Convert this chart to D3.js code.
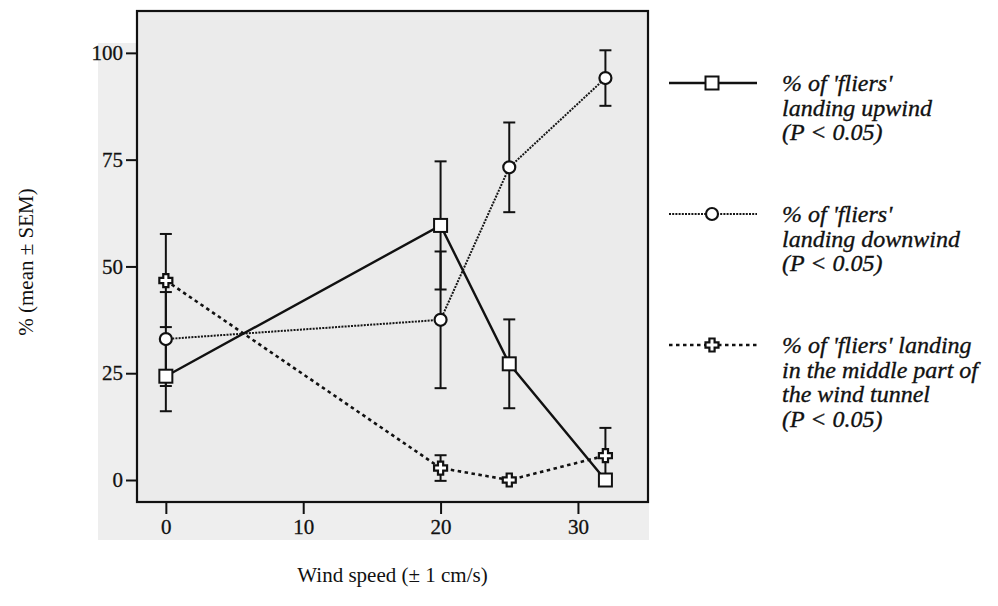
<!DOCTYPE html>
<html>
<head>
<meta charset="utf-8">
<script src="https://cdn.jsdelivr.net/npm/d3@7"></script>
<style>
  html, body { margin: 0; padding: 0; background: #fff; }
  svg { display: block; }
</style>
</head>
<body>
<svg id="chart" width="998" height="606"></svg>
<script>
// ---- data ----
const windSpeed = [0, 20, 25, 32];
const upwind = [24.3, 59.6, 27.2, 0];
const upwindErr = [8.2, 15, 10.4, null];
const downwind = [33, 37.5, 73.2, 94.1];
const downwindErr = [11, 16, 10.5, 6.5];
const middle = [46.7, 2.8, 0, 5.7];
const middleErr = [10.9, 3, null, 6.5];
const xTicks = [0, 10, 20, 30];
const yTicks = [0, 25, 50, 75, 100];
const xTitle = "Wind speed (\u00B1 1 cm/s)";
const yTitle = "% (mean \u00B1 SEM)";
const legendItems = [
  { key: "up", lines: ["% of 'fliers'", "landing upwind", "(P < 0.05)"] },
  { key: "down", lines: ["% of 'fliers'", "landing downwind", "(P < 0.05)"] },
  { key: "mid", lines: ["% of 'fliers' landing", "in the middle part of", "the wind tunnel", "(P < 0.05)"] }
];

// ---- layout ----
const box = { left: 137, right: 648, top: 11, bottom: 502 };
const svg = d3.select("#chart");
const x = d3.scaleLinear().domain([-2.1, 35.1]).range([box.left, box.right]);
const y = d3.scaleLinear().domain([-5.15, 109.8]).range([box.bottom, box.top]);

const serif = "'Liberation Serif', 'Times New Roman', serif";

// scanned page grey background
svg.append("rect").attr("x", 98).attr("y", 43).attr("width", 551).attr("height", 497).attr("fill", "#eeeeee");
svg.append("rect").attr("x", box.left).attr("y", box.top).attr("width", box.right - box.left)
  .attr("height", box.bottom - box.top).attr("fill", "#ebebeb");

// axes
const yAxis = d3.axisLeft(y).tickValues(yTicks).tickSize(11).tickPadding(3).tickFormat(d3.format("d"));
const gy = svg.append("g").attr("transform", `translate(${box.left},0)`).call(yAxis);
const xAxis = d3.axisBottom(x).tickValues(xTicks).tickSize(12).tickPadding(5).tickFormat(d3.format("d"));
const gx = svg.append("g").attr("transform", `translate(0,${box.bottom})`).call(xAxis);
[gx, gy].forEach(g => {
  g.select(".domain").remove();
  g.selectAll(".tick line").attr("stroke", "#111").attr("stroke-width", 2);
  g.selectAll(".tick text").attr("font-family", serif).attr("font-size", 21).attr("fill", "#111")
    .attr("stroke", "#111").attr("stroke-width", 0.3);
});

// box frame
svg.append("rect").attr("x", box.left).attr("y", box.top).attr("width", box.right - box.left)
  .attr("height", box.bottom - box.top).attr("fill", "none").attr("stroke", "#111").attr("stroke-width", 2.2);

// titles
svg.append("text").attr("x", (box.left + box.right) / 2).attr("y", 582).attr("text-anchor", "middle")
  .attr("font-family", serif).attr("font-size", 21).attr("fill", "#111").text(xTitle);
svg.append("text").attr("transform", `translate(33,262) rotate(-90)`)
  .attr("text-anchor", "middle").attr("font-family", serif).attr("font-size", 21).attr("fill", "#111").text(yTitle);

// series
const styles = {
  up: { dash: null, width: 2.4, color: "#111" },
  down: { dash: "2,1.2", width: 2, color: "#151515" },
  mid: { dash: "3.5,3.5", width: 2.6, color: "#111" }
};
const series = [
  { key: "up", vals: upwind, err: upwindErr, marker: "square" },
  { key: "down", vals: downwind, err: downwindErr, marker: "circle" },
  { key: "mid", vals: middle, err: middleErr, marker: "cross" }
];

const plot = svg.append("g");
// error bars
series.forEach(s => {
  s.vals.forEach((v, i) => {
    const e = s.err[i];
    if (e == null) return;
    const cx = x(windSpeed[i]);
    const g = plot.append("g").attr("stroke", "#111").attr("stroke-width", 2);
    g.append("line").attr("x1", cx).attr("x2", cx).attr("y1", y(v - e)).attr("y2", y(v + e));
    g.append("line").attr("x1", cx - 6).attr("x2", cx + 6).attr("y1", y(v + e)).attr("y2", y(v + e));
    g.append("line").attr("x1", cx - 6).attr("x2", cx + 6).attr("y1", y(v - e)).attr("y2", y(v - e));
  });
});

// lines
const lineGen = d3.line().x((d, i) => x(windSpeed[i])).y(d => y(d));
series.forEach(s => {
  const st = styles[s.key];
  plot.append("path").attr("d", lineGen(s.vals)).attr("fill", "none")
    .attr("stroke", st.color).attr("stroke-width", st.width)
    .attr("stroke-dasharray", st.dash);
});

const crossPath = d3.path();
(function () {
  const a = 2.6, b = 6.5;
  const pts = [[-a,-b],[a,-b],[a,-a],[b,-a],[b,a],[a,a],[a,b],[-a,b],[-a,a],[-b,a],[-b,-a],[-a,-a]];
  pts.forEach((p, i) => i ? crossPath.lineTo(p[0], p[1]) : crossPath.moveTo(p[0], p[1]));
  crossPath.closePath();
})();

function drawMarker(g, type, cx, cy) {
  if (type === "square") {
    g.append("rect").attr("x", cx - 6.5).attr("y", cy - 6.5).attr("width", 13).attr("height", 13)
      .attr("fill", "#fff").attr("stroke", "#111").attr("stroke-width", 2);
  } else if (type === "circle") {
    g.append("circle").attr("cx", cx).attr("cy", cy).attr("r", 6)
      .attr("fill", "#fff").attr("stroke", "#111").attr("stroke-width", 2.2);
  } else {
    g.append("path").attr("d", crossPath.toString()).attr("transform", `translate(${cx},${cy})`)
      .attr("fill", "#fff").attr("stroke", "#111").attr("stroke-width", 2.2);
  }
}
series.forEach(s => {
  s.vals.forEach((v, i) => drawMarker(plot, s.marker, x(windSpeed[i]), y(v)));
});

// legend
const legendRowY = [83, 214, 345];
const lineH = 24.5;
legendItems.forEach((item, k) => {
  const s = series.find(d => d.key === item.key);
  const st = styles[item.key];
  const ly = legendRowY[k];
  const g = svg.append("g");
  g.append("line").attr("x1", 669).attr("x2", 757).attr("y1", ly).attr("y2", ly)
    .attr("stroke", st.color).attr("stroke-width", st.width).attr("stroke-dasharray", st.dash);
  drawMarker(g, s.marker, 712, ly);
  item.lines.forEach((t, j) => {
    g.append("text").attr("x", 782).attr("y", ly + 8 + j * lineH)
      .attr("font-family", serif).attr("font-style", "italic").attr("font-size", 24)
      .attr("fill", "#111").attr("stroke", "#111").attr("stroke-width", 0.35).text(t);
  });
});
</script>
</body>
</html>
